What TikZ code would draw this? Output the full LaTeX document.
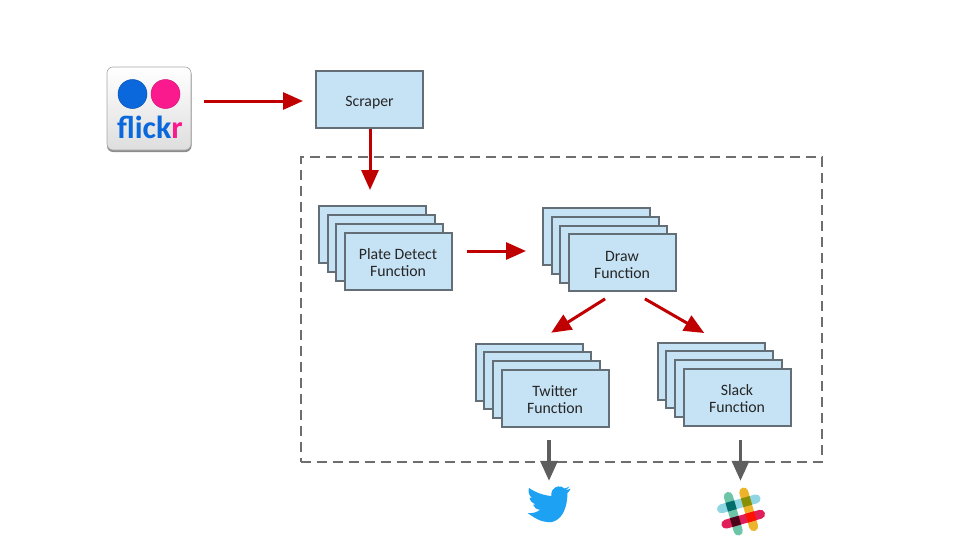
\documentclass[tikz,border=0pt]{standalone}
\usepackage{fontspec}
\setmainfont{Carlito}
\usetikzlibrary{arrows.meta}
\definecolor{boxblue}{HTML}{C6E2F5}
\definecolor{boxline}{HTML}{646E76}
\definecolor{redarrow}{HTML}{C00000}
\definecolor{grayarrow}{HTML}{5E5E5E}
\definecolor{flickrblue}{HTML}{0A68DC}
\definecolor{flickrpink}{HTML}{FB1A8E}
\definecolor{twitterblue}{HTML}{1DA1F2}
\definecolor{slackcyan}{HTML}{8ED6E3}
\definecolor{slackgreen}{HTML}{6CC5A6}
\definecolor{slackorange}{HTML}{EDB32B}
\definecolor{slackred}{HTML}{E01E5A}
\tikzset{
  fnbox/.style={draw=boxline,fill=boxblue,line width=2pt,minimum width=107pt,minimum height=57pt,inner sep=0pt,align=center,font=\fontsize{15.8}{17}\selectfont,text=black!85,text depth=0pt,text height=31.5pt},
  redline/.style={draw=redarrow,line width=3pt,-{Triangle[length=20pt,width=17pt]}},
  grayline/.style={draw=grayarrow,line width=3.5pt,-{Triangle[length=20pt,width=17pt]}},
  logo/.style={inner sep=0pt,minimum width=#1,minimum height=#1}
}
\begin{document}
\begin{tikzpicture}[x=1pt,y=-1pt]
\useasboundingbox (0,0) rectangle (958,538);
% outer box
\node (faas) [draw=grayarrow!90,line width=2pt,dash pattern=on 10pt off 6pt,minimum width=521pt,minimum height=305pt,inner sep=0pt] at (561.5,309.5) {};
% flickr icon
\fill[black!45,rounded corners=6pt] (107,68.5) rectangle (191.5,152);
\node (flickr) [draw=black!35,line width=.6pt,top color=white,bottom color=black!13,rounded corners=6pt,minimum width=84pt,minimum height=83pt,inner sep=0pt] at (149,108.5) {};
\fill[flickrblue,draw=flickrblue!80!black,line width=.5pt] (132.5,94) circle (14.5);
\fill[flickrpink,draw=flickrpink!85!black,line width=.5pt] (165.5,94) circle (14.5);
\node (flickrname) at (150,127.5) {\fontsize{32}{32}\selectfont\bfseries\textcolor{flickrblue}{flick}\textcolor{flickrpink}{r}};
% scraper
\node (scraper) [fnbox,text height=14.5pt] at (369.5,99) {Scraper};
% plate detect stack
\node (plate1) [fnbox] at (372.5,234.5) {};
\node (plate2) [fnbox] at (381,243) {};
\node (plate3) [fnbox] at (389.5,252) {};
\node (plate4) [fnbox] at (398,261) {Plate Detect\\Function};
% draw stack
\node (draw1) [fnbox] at (596.5,236.5) {};
\node (draw2) [fnbox] at (605,245) {};
\node (draw3) [fnbox] at (613.5,254) {};
\node (draw4) [fnbox] at (622,262.5) {Draw\\Function};
% twitter stack
\node (twitter1) [fnbox] at (529,372) {};
\node (twitter2) [fnbox] at (537.5,380.5) {};
\node (twitter3) [fnbox] at (546,389.5) {};
\node (twitter4) [fnbox] at (555,398) {Twitter\\Function};
% slack stack
\node (slack1) [fnbox] at (711,371) {};
\node (slack2) [fnbox] at (719.5,379.5) {};
\node (slack3) [fnbox] at (728,388.5) {};
\node (slack4) [fnbox] at (737,397) {Slack\\Function};
% logos
\node (twitterlogo) [logo=40pt] at (549,505) {};
\node (slacklogo) [logo=50pt] at (740.5,511) {};
% twitter bird
\fill[twitterblue] (570.5,488.5) .. controls (568.5,489.5) and (567,490) .. (565.5,490.2)
  .. controls (567,489.2) and (568.5,487.8) .. (569.5,486.5) .. controls (567.5,487.5) and (566,488.2) .. (564.5,488.5)
  .. controls (561,485) and (555,486) .. (552.5,490) .. controls (551.5,492) and (551,494) .. (551.5,496)
  .. controls (543,495.5) and (535,492) .. (529,488) .. controls (528,491) and (528.5,495) .. (532,498)
  .. controls (531,498) and (530,497.8) .. (529.5,497.5) .. controls (530,501) and (532.5,503.5) .. (535.5,504.5)
  .. controls (534.5,504.8) and (533.5,504.8) .. (533,504.7) .. controls (534,507.5) and (536.5,509.5) .. (540,509.8)
  .. controls (536.5,512.5) and (532.5,513.5) .. (527.5,513) .. controls (533,516.5) and (540,523) .. (552,522)
  .. controls (560,520) and (567,512) .. (567.5,493) .. controls (568.7,492) and (570,490.5) .. (570.5,488.5) -- cycle;
% slack logo
\begin{scope}[shift={(741,511.5)},rotate=16,line width=9pt,line cap=round]
\draw[draw=slackcyan] (-18,-8) -- (18,-8);
\draw[draw=slackgreen] (-8,-18) -- (-8,18);
\draw[draw=slackorange] (8,-18) -- (8,18);
\draw[draw=slackred] (-18,8) -- (18,8);
\fill[black!60!purple] (-12.5,3.5) rectangle (-3.5,12.5);
\fill[teal!85!black] (-12.5,-12.5) rectangle (-3.5,-3.5);
\fill[olive!85!green] (3.5,-12.5) rectangle (12.5,-3.5);
\fill[red!85!orange] (3.5,3.5) rectangle (12.5,12.5);
\end{scope}
% connectors
\draw[redline,shorten <=13pt,shorten >=12pt] ([yshift=-2pt]flickr.east |- scraper) -- ([yshift=-2pt]scraper.west);
\draw[redline,shorten >=15pt] ([xshift=.5pt]scraper.south) -- ([xshift=.5pt]scraper |- plate1.north);
\draw[redline,shorten <=14pt,shorten >=16pt] ([yshift=10pt]plate4.east) -- ([yshift=-14.5pt]draw1.west);
\draw[redline,shorten <=12.9pt,shorten >=18.4pt] ([xshift=-6pt]draw4.south) -- ([xshift=6.6pt]twitter1.north);
\draw[redline,shorten <=13.7pt,shorten >=17pt] ([xshift=11pt]draw4.south) -- ([xshift=8pt]slack1.north);
\draw[grayline,shorten <=12pt,shorten >=4pt] ([xshift=-6pt]twitter4.south) -- (twitterlogo.north);
\draw[grayline,shorten <=13pt,shorten >=5pt] ([xshift=3.5pt]slack4.south) -- (slacklogo.north);
\end{tikzpicture}
\end{document}
